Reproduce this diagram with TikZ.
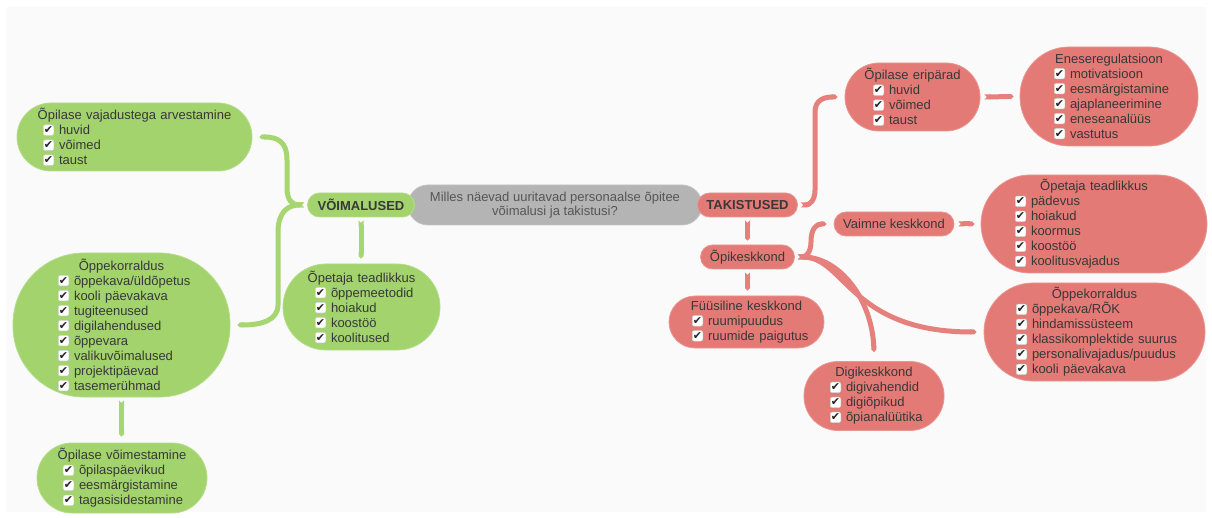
\documentclass[tikz,border=0pt]{standalone}
\usepackage{fontspec}
\setmainfont{Liberation Sans}
\newfontfamily\chkfont{DejaVu Sans}
\usetikzlibrary{arrows.meta}
\definecolor{cBack}{HTML}{FAFAFA}
\definecolor{cPosF}{HTML}{A2D36D}
\definecolor{cPosL}{HTML}{A6D672}
\definecolor{cNegF}{HTML}{E47A76}
\definecolor{cNegL}{HTML}{E6807D}
\definecolor{cRootF}{HTML}{B4B4B4}
\definecolor{cTxt}{HTML}{383838}
\tikzset{
  mmhead/.style={rectangle,inner ysep=0pt,align=left,text=cTxt,
      font=\fontsize{13}{15}\selectfont,line width=0.8pt},
  mmpos/.style={mmhead,fill=cPosF,draw=cPosF!80!white},
  mmneg/.style={mmhead,fill=cNegF,draw=cNegF!80!white},
  mmroot/.style={rectangle,rounded corners=20pt,fill=cRootF,draw=cRootF!80!white,
      line width=0.8pt,minimum width=294pt,minimum height=40pt,inner sep=0pt,
      align=center,text=cTxt!85!white,font=\fontsize{13}{14}\selectfont},
  mmpill/.style={rectangle,rounded corners=12pt,minimum height=24pt,inner sep=0pt,
      text=cTxt,font=\fontsize{13}{15}\selectfont,line width=0.8pt},
  mmkey/.style={mmpill,font=\bfseries\fontsize{13}{15}\selectfont},
  mmlink/.style={line width=5pt,{Triangle Cap[reversed]}-{Triangle Cap}},
  mmlinkp/.style={mmlink,draw=cPosL},
  mmlinkn/.style={mmlink,draw=cNegL},
  chkbox/.style={rectangle,draw=black!18,fill=white,line width=0.5pt,
      rounded corners=2pt,minimum size=10.5pt,inner sep=0pt,text width={},
      align=center,text=black!85,font=\chkfont\fontsize{11}{11}\selectfont},
}
\newcommand{\chk}{\tikz[baseline=-4.5pt]\node[chkbox]{✔};}
\newcommand{\itm}[1]{\mbox{\chk\hspace{5pt}#1}}
% name, style, position, text width, xsep, height, title, items
\newcommand{\topic}[8]{%
  \node[#2,text width=#4,inner xsep=#5,minimum height=#6] (#1) at (#3)
    {\makebox[\hsize]{#7}\\#8};}

\begin{document}
\begin{tikzpicture}[x=1pt,y=-1pt]
  \useasboundingbox (0,0) rectangle (1212,518);
  \fill[white] (0,0) rectangle (1212,518);
  \fill[cBack] (6,7) rectangle (1206,512);

  % centre
  \node[mmroot] (root) at (555,205)
    {Milles näevad uuritavad personaalse õpitee\\võimalusi ja takistusi?};
  \node[mmkey,fill=cPosF,draw=cPosF!80!white,minimum width=107pt] (vo) at (361,205) {VÕIMALUSED};
  \node[mmkey,fill=cNegF,draw=cNegF!80!white,minimum width=100pt] (ta) at (747.5,205) {TAKISTUSED};

  % green side
  \topic{gv}{mmpos,rounded corners=34pt}{134.5,137}{183pt}{26pt}{68pt}
    {Õpilase vajadustega arvestamine}{\itm{huvid}\\\itm{võimed}\\\itm{taust}}
  \topic{gk}{mmpos,rounded corners=71pt}{121.5,325}{127pt}{45pt}{144pt}
    {Õppekorraldus}{\itm{õppekava/üldõpetus}\\\itm{kooli päevakava}\\\itm{tugiteenused}\\
     \itm{digilahendused}\\\itm{õppevara}\\\itm{valikuvõimalused}\\\itm{projektipäevad}\\
     \itm{tasemerühmad}}
  \topic{gw}{mmpos,rounded corners=35pt}{122,478}{118pt}{26pt}{70pt}
    {Õpilase võimestamine}{\itm{õpilaspäevikud}\\\itm{eesmärgistamine}\\\itm{tagasisidestamine}}
  \topic{gt}{mmpos,rounded corners=43pt}{361.5,307}{93pt}{32pt}{86pt}
    {Õpetaja teadlikkus}{\itm{õppemeetodid}\\\itm{hoiakud}\\\itm{koostöö}\\\itm{koolitused}}

  % red side
  \topic{re}{mmneg,rounded corners=34pt}{912.5,97}{79pt}{28pt}{68pt}
    {Õpilase eripärad}{\itm{huvid}\\\itm{võimed}\\\itm{taust}}
  \topic{rs}{mmneg,rounded corners=49pt}{1109,96.5}{110pt}{34pt}{99pt}
    {Eneseregulatsioon}{\itm{motivatsioon}\\\itm{eesmärgistamine}\\\itm{ajaplaneerimine}\\
     \itm{eneseanalüüs}\\\itm{vastutus}}
  \node[mmpill,fill=cNegF,draw=cNegF!80!white,minimum width=120pt] (rv) at (894,224) {Vaimne keskkond};
  \topic{rt}{mmneg,rounded corners=49pt}{1094,224}{158pt}{34pt}{98pt}
    {Õpetaja teadlikkus}{\itm{pädevus}\\\itm{hoiakud}\\\itm{koormus}\\\itm{koostöö}\\
     \itm{koolitusvajadus}}
  \topic{ro}{mmneg,rounded corners=49pt}{1094.5,332}{157pt}{32pt}{98pt}
    {Õppekorraldus}{\itm{õppekava/RÕK}\\\itm{hindamissüsteem}\\\itm{klassikomplektide suurus}\\
     \itm{personalivajadus/puudus}\\\itm{kooli päevakava}}
  \node[mmpill,fill=cNegF,draw=cNegF!80!white,minimum width=94pt] (rk) at (747.5,257) {Õpikeskkond};
  \topic{rf}{mmneg,rounded corners=26pt}{746.5,322}{109pt}{23pt}{52pt}
    {Füüsiline keskkond}{\itm{ruumipuudus}\\\itm{ruumide paigutus}}
  \topic{rd}{mmneg,rounded corners=34pt}{874,396}{88pt}{26pt}{69pt}
    {Digikeskkond}{\itm{digivahendid}\\\itm{digiõpikud}\\\itm{õpianalüütika}}

  % links
  \draw[mmlinkp] ([xshift=-3pt]vo.west) .. controls (292,205) and (287,200) .. (287,188)
    -- (287,160) .. controls (287,142) and (278,137) .. ([xshift=7pt]gv.east);
  \draw[mmlinkp] ([xshift=-3pt]vo.west) .. controls (288,205) and (278,212) .. (278,232)
    -- (278,305) .. controls (278,320) and (262,325) .. ([xshift=7pt]gk.east);
  \draw[mmlinkp,shorten <=3pt,shorten >=5pt] (vo.south) -- (vo.south |- gt.north);
  \draw[mmlinkp,shorten <=3pt,shorten >=6pt] (gk.south) -- (gk.south |- gw.north);

  \draw[mmlinkn] ([xshift=3pt]ta.east) .. controls (810,205) and (815,200) .. (815,190)
    -- (815,112) .. controls (815,100) and (824,97) .. ([xshift=-7pt]re.west);
  \draw[mmlinkn] ([xshift=4pt]re.east) -- ([xshift=-6pt]rs.west);
  \draw[mmlinkn,shorten <=3pt,shorten >=4pt] (ta.south) -- (rk.north);
  \draw[mmlinkn,shorten <=3pt,shorten >=5pt] (rk.south) -- (rk.south |- rf.north);
  \draw[mmlinkn] ([xshift=3pt]rk.east) .. controls (806,257) and (811,252) .. (811,242)
    .. controls (811,229) and (816,224) .. ([xshift=-7pt]rv.west);
  \draw[mmlinkn] ([xshift=3pt]rk.east) .. controls (845,257) and (850,332) .. ([xshift=-7pt]ro.west);
  \draw[mmlinkn] ([xshift=3pt]rk.east) .. controls (840,257) and (872,300) .. ([yshift=9pt]rd.north);
  \draw[mmlinkn] ([xshift=4pt]rv.east) -- ([xshift=-6pt]rt.west);
\end{tikzpicture}
\end{document}
